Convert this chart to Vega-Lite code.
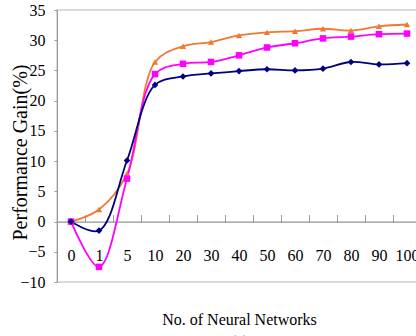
{
  "$schema": "https://vega.github.io/schema/vega-lite/v6.json",
  "width": 364,
  "height": 272,
  "autosize": {"type": "none"},
  "padding": {"left": 57, "top": 10, "right": 0, "bottom": 54},
  "config": {
    "view": {"stroke": "#d0d0d0", "strokeWidth": 1.5},
    "font": "Liberation Serif"
  },
  "data": {
    "values": [
      {"n": "0", "s": "A", "v": 0}, {"n": "1", "s": "A", "v": 2.0}, {"n": "5", "s": "A", "v": 7.9}, {"n": "10", "s": "A", "v": 26.4},
      {"n": "20", "s": "A", "v": 29.0}, {"n": "30", "s": "A", "v": 29.7}, {"n": "40", "s": "A", "v": 30.8}, {"n": "50", "s": "A", "v": 31.3},
      {"n": "60", "s": "A", "v": 31.5}, {"n": "70", "s": "A", "v": 31.9}, {"n": "80", "s": "A", "v": 31.6}, {"n": "90", "s": "A", "v": 32.3},
      {"n": "100", "s": "A", "v": 32.6},
      {"n": "0", "s": "B", "v": 0}, {"n": "1", "s": "B", "v": -7.5}, {"n": "5", "s": "B", "v": 7.1}, {"n": "10", "s": "B", "v": 24.4},
      {"n": "20", "s": "B", "v": 26.1}, {"n": "30", "s": "B", "v": 26.4}, {"n": "40", "s": "B", "v": 27.5}, {"n": "50", "s": "B", "v": 28.8},
      {"n": "60", "s": "B", "v": 29.5}, {"n": "70", "s": "B", "v": 30.3}, {"n": "80", "s": "B", "v": 30.6}, {"n": "90", "s": "B", "v": 31.0},
      {"n": "100", "s": "B", "v": 31.1},
      {"n": "0", "s": "C", "v": 0}, {"n": "1", "s": "C", "v": -1.5}, {"n": "5", "s": "C", "v": 10.1}, {"n": "10", "s": "C", "v": 22.6},
      {"n": "20", "s": "C", "v": 24.0}, {"n": "30", "s": "C", "v": 24.5}, {"n": "40", "s": "C", "v": 24.9}, {"n": "50", "s": "C", "v": 25.2},
      {"n": "60", "s": "C", "v": 25.0}, {"n": "70", "s": "C", "v": 25.3}, {"n": "80", "s": "C", "v": 26.4}, {"n": "90", "s": "C", "v": 26.0},
      {"n": "100", "s": "C", "v": 26.2}
    ]
  },
  "encoding": {
    "x": {
      "field": "n", "type": "ordinal",
      "sort": ["0", "1", "5", "10", "20", "30", "40", "50", "60", "70", "80", "90", "100"],
      "scale": {"type": "band", "paddingInner": 0, "paddingOuter": 0},
      "axis": {
        "offset": -60.4, "tickBand": "extent", "tickSize": -7, "labelPadding": 33, "labelAngle": 0,
        "domainColor": "#777777", "tickColor": "#999999", "labelFontSize": 16, "labelColor": "#000000",
        "title": ["No. of Neural Networks", "(a)"], "titleFontSize": 16, "titleFontWeight": "normal",
        "titleY": 102.5, "titleBaseline": "alphabetic", "titleLineHeight": 22, "titleColor": "#000000"
      }
    },
    "y": {
      "field": "v", "type": "quantitative",
      "scale": {"domain": [-10, 35]},
      "axis": {
        "values": [-10, -5, 0, 5, 10, 15, 20, 25, 30, 35], "grid": false, "tickSize": 3, "labelPadding": 9,
        "labelFontSize": 16, "labelColor": "#000000", "domainColor": "#999999", "tickColor": "#999999",
        "title": "Performance Gain(%)", "titleFontSize": 20, "titleFontWeight": "normal", "titleColor": "#000000",
        "titleX": -31, "titleY": 142, "titleBaseline": "alphabetic"
      }
    },
    "color": {
      "field": "s", "type": "nominal",
      "scale": {"domain": ["A", "B", "C"], "range": ["#F07832", "#FF00FF", "#000080"]},
      "legend": null
    }
  },
  "layer": [
    {"mark": {"type": "line", "interpolate": "catmull-rom", "strokeWidth": 1.8}},
    {
      "mark": {"type": "point", "filled": true, "opacity": 1},
      "encoding": {
        "shape": {"field": "s", "type": "nominal", "scale": {"domain": ["A", "B", "C"], "range": ["triangle-up", "square", "diamond"]}, "legend": null},
        "size": {"field": "s", "type": "nominal", "scale": {"domain": ["A", "B", "C"], "range": [40, 45, 28]}, "legend": null}
      }
    }
  ]
}
